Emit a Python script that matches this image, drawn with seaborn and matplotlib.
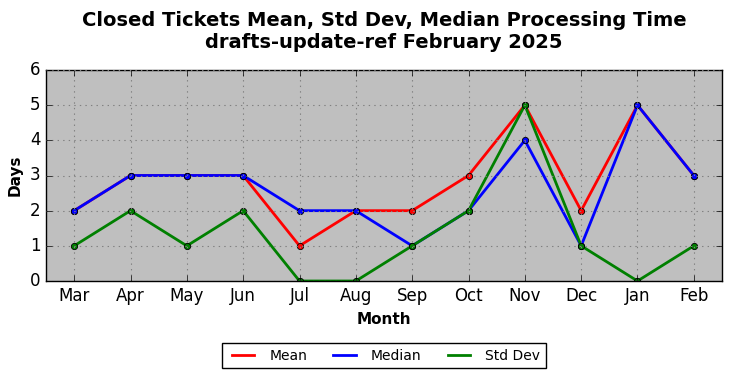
import pandas as pd
import matplotlib
matplotlib.use('Agg')
import matplotlib.pyplot as plt
import seaborn as sns

MONTHS = ['Mar', 'Apr', 'May', 'Jun', 'Jul', 'Aug', 'Sep', 'Oct', 'Nov', 'Dec', 'Jan', 'Feb']
MEAN = [2, 3, 3, 3, 1, 2, 2, 3, 5, 2, 5, 3]
MEDIAN = [2, 3, 3, 3, 2, 2, 1, 2, 4, 1, 5, 3]
STD_DEV = [1, 2, 1, 2, 0, 0, 1, 2, 5, 1, 0, 1]

plt.style.use('classic')
plt.rcParams['font.family'] = ['DejaVu Sans']

df = pd.DataFrame({'Month': MONTHS, 'Mean': MEAN, 'Median': MEDIAN, 'Std Dev': STD_DEV})
df['x'] = range(len(MONTHS))

fig = plt.figure(figsize=(7.32, 3.78), dpi=100, facecolor='white')
ax = fig.add_axes([46 / 732, 1 - 281 / 378, (722 - 46) / 732, (281 - 70) / 378])
ax.set_facecolor('#bfbfbf')

# mean, median, std drawn in that order so std sits on top
for col, color in [('Mean', 'red'), ('Median', 'blue'), ('Std Dev', 'green')]:
    sns.lineplot(data=df, x='x', y=col, ax=ax, color=color, linewidth=2,
                 marker='o', markersize=4.5, markeredgecolor='black',
                 markeredgewidth=0.6, label=col)

ax.set_xlim(-0.5, len(MONTHS) - 0.5)
ax.set_ylim(0, 6)
ax.set_xticks(df['x'])
ax.set_xticklabels(MONTHS, fontsize=12)
ax.tick_params(axis='y', labelsize=12)
ax.grid(True, linestyle=':', color='#808080', linewidth=0.8)
ax.set_xlabel('Month', fontsize=11, fontweight='bold')
ax.set_ylabel('Days', fontsize=11, fontweight='bold')
ax.text(0.5, 1 + 39 / 211, 'Closed Tickets Mean, Std Dev, Median Processing Time\ndrafts-update-ref February 2025',
        transform=ax.transAxes, ha='center', va='center', fontsize=14,
        fontweight='bold', linespacing=1.2)

leg = ax.legend(loc='upper center', bbox_to_anchor=(0.5, -0.262), ncol=3,
                fontsize=10, frameon=True, fancybox=False, handlelength=2.2,
                columnspacing=1.6, borderpad=0.4)
leg.get_frame().set_edgecolor('black')
for h in leg.get_lines():
    h.set_marker('None')

fig.savefig('out.png', dpi=100, facecolor='white')
